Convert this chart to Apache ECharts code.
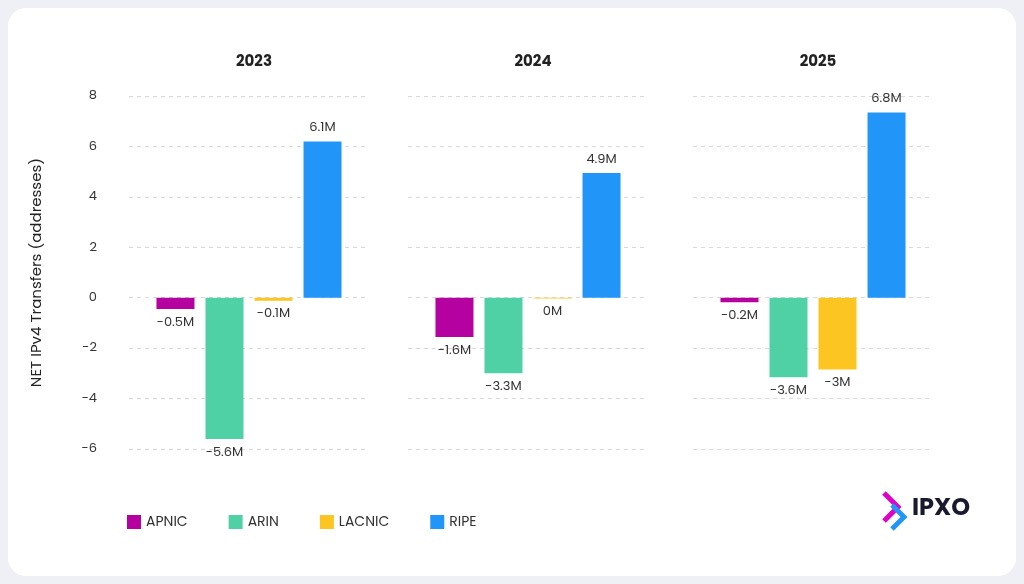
<!DOCTYPE html><html><head><meta charset="utf-8">
<script src="https://cdn.jsdelivr.net/npm/echarts@6/dist/echarts.min.js"></script>
<style>html,body{margin:0;background:#eef0f6;}#card{position:absolute;left:8px;top:8px;width:1008px;height:568px;background:#fff;border-radius:18px;}#c{position:absolute;left:0;top:0;width:1024px;height:584px;}</style></head><body><div id="card"></div><div id="c"></div>
<script>
const years=['2023','2024','2025'];
const regions=['APNIC','ARIN','LACNIC','RIPE'];
const colors=['#b5019f','#4fd1a5','#fdc521','#2196f8'];
// bar heights (millions) per region, per year
const APNIC=[-0.45,-1.56,-0.18];
const ARIN=[-5.6,-3.0,-3.15];
const LACNIC=[-0.12,-0.03,-2.85];
const RIPE=[6.2,4.95,7.35];
// printed labels
const APNICLabels=['-0.5M','-1.6M','-0.2M'];
const ARINLabels=['-5.6M','-3.3M','-3.6M'];
const LACNICLabels=['-0.1M','0M','-3M'];
const RIPELabels=['6.1M','4.9M','6.8M'];
const yTicks=[-6,-4,-2,0,2,4,6,8];
const vals=[APNIC,ARIN,LACNIC,RIPE], labs=[APNICLabels,ARINLabels,LACNICLabels,RIPELabels];
const lefts=[129,408,693];
const font='Poppins, Inter, sans-serif';
const grids=[],xA=[],yA=[],series=[],titles=[];
years.forEach((y,i)=>{
  grids.push({left:lefts[i],width:240,top:96,height:353});
  xA.push({type:'category',gridIndex:i,data:[y],axisLine:{show:false},axisTick:{show:false},axisLabel:{show:false}});
  yA.push({type:'value',gridIndex:i,min:-6,max:8,interval:2,
    splitLine:{lineStyle:{color:'#d9d9d9',type:[4,4]}},
    axisLabel:{show:i===0,color:'#333',fontSize:13,fontFamily:font,margin:32},
    name:i===0?'NET IPv4 Transfers (addresses)':'',nameLocation:'middle',nameGap:84,nameRotate:90,
    nameTextStyle:{fontSize:15,color:'#222',fontFamily:font}});
  titles.push({text:y,left:lefts[i]+120,top:50,textAlign:'center',textStyle:{fontSize:15,fontWeight:'bold',color:'#222',fontFamily:font}});
  regions.forEach((r,k)=>{
    const v=vals[k][i];
    series.push({type:'bar',name:r,xAxisIndex:i,yAxisIndex:i,barWidth:38,barGap:'29%',
      itemStyle:{color:colors[k]},data:[v],
      label:{show:true,position:v>=0?'top':'bottom',distance:7,formatter:()=>labs[k][i],color:'#333',fontSize:13,fontFamily:font}});
  });
});
const ch=echarts.init(document.getElementById('c'));
ch.setOption({title:titles,grid:grids,xAxis:xA,yAxis:yA,series:series,
  legend:{data:regions,left:122,top:510,itemWidth:14,itemHeight:14,itemGap:41,icon:'rect',textStyle:{fontSize:14,color:'#333',fontFamily:font}},
  graphic:[{type:'text',left:912,top:497,style:{text:'IPXO',fontSize:24,fontWeight:'bold',fill:'#1a1a2e',fontFamily:font}},
    {type:'polyline',shape:{points:[[884,493],[898,507],[884,521]]},style:{stroke:'#e100c8',lineWidth:5,fill:null}},
    {type:'polyline',shape:{points:[[892,505],[904,517],[892,529]]},style:{stroke:'#2196f8',lineWidth:5,fill:null}}]
});
</script></body></html>
